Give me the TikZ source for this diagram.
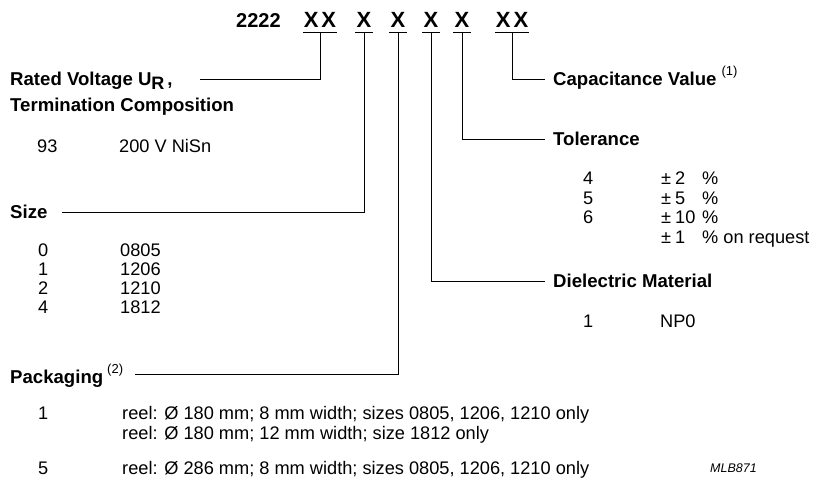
\documentclass[tikz,border=0pt]{standalone}
\usepackage{fontspec}
\setmainfont{Liberation Sans}
\begin{document}
\begin{tikzpicture}[x=1pt,y=-1pt,
  lbl/.style={anchor=base west,inner sep=0pt,font=\bfseries\fontsize{18.6}{18.6}\selectfont},
  val/.style={anchor=base west,inner sep=0pt,font=\fontsize{18.2}{18.2}\selectfont},
  hdr/.style={anchor=base,inner xsep=1pt,inner ysep=5pt,font=\bfseries\fontsize{22}{22}\selectfont},
  conn/.style={line width=0.9pt}]
\useasboundingbox (0,0) rectangle (813,483);

% header
\node[anchor=base west,inner sep=0pt,font=\bfseries\fontsize{20}{20}\selectfont] (code) at (236,27) {2222};
\node[hdr] (g1) at (320,27) {X\hspace{3pt}X};
\node[hdr] (g2) at (364,27) {X};
\node[hdr] (g3) at (398,27) {X};
\node[hdr] (g4) at (431,27) {X};
\node[hdr] (g5) at (462,27) {X};
\node[hdr] (g6) at (512,27) {X\hspace{3pt}X};
\foreach \g in {g1,g2,g3,g4,g5,g6}{
  \draw[conn] (\g.south west) -- (\g.south east);
}

% left labels
\node[lbl] (rated) at (10,85) {Rated Voltage U\raisebox{-4pt}{\fontsize{18}{18}\selectfont R}\hspace{3pt},};
\node[lbl] (term) at (10,111) {Termination Composition};
\node[val] (v93) at (37,152) {93};
\node[val] (vnisn) at (119,152) {200 V NiSn};

\node[lbl] (size) at (10,218) {Size};
\node[val] (s0) at (38,256) {0};
\node[val] (s1) at (38,275) {1};
\node[val] (s2) at (38,294) {2};
\node[val] (s4) at (38,313) {4};
\node[val] (d0) at (120,256) {0805};
\node[val] (d1) at (120,275) {1206};
\node[val] (d2) at (120,294) {1210};
\node[val] (d4) at (120,313) {1812};

\node[lbl] (pack) at (10,383) {Packaging\hspace{4pt}\raisebox{10pt}{\normalfont\fontsize{13}{13}\selectfont (2)}};
\node[val] (p1) at (38,419) {1};
\node[val] (r1) at (122,419) {reel: Ø 180 mm; 8 mm width; sizes 0805, 1206, 1210 only};
\node[val] (r2) at (122,439) {reel: Ø 180 mm; 12 mm width; size 1812 only};
\node[val] (p5) at (38,474) {5};
\node[val] (r5) at (122,474) {reel: Ø 286 mm; 8 mm width; sizes 0805, 1206, 1210 only};
\node[anchor=base west,inner sep=0pt,font=\itshape\fontsize{12.5}{12.5}\selectfont] (mlb) at (710,472) {MLB871};

% right labels
\node[lbl] (cap) at (553,85) {Capacitance Value\hspace{5pt}\raisebox{10pt}{\normalfont\fontsize{13}{13}\selectfont (1)}};
\node[lbl] (tol) at (553,145) {Tolerance};
\node[val] (t4) at (583,184) {4};
\node[val] (t5) at (583,204) {5};
\node[val] (t6) at (583,223) {6};
\node[val] (pm1) at (661,184) {±};
\node[val] (pm2) at (661,204) {±};
\node[val] (pm3) at (661,223) {±};
\node[val] (pm4) at (661,243) {±};
\node[val] (n1) at (675,184) {2};
\node[val] (n2) at (675,204) {5};
\node[val] (n3) at (675,223) {10};
\node[val] (n4) at (675,243) {1};
\node[val] (c1) at (702,184) {\%};
\node[val] (c2) at (702,204) {\%};
\node[val] (c3) at (702,223) {\%};
\node[val] (c4) at (702,243) {\% on request};
\node[lbl] (diel) at (553,287) {Dielectric Material};
\node[val] (k1) at (583,327) {1};
\node[val] (np0) at (660,327) {NP0};

% connector ends
\coordinate (eRated) at (200,79);
\coordinate (eSize) at (62,212);
\coordinate (ePack) at (135,374);
\coordinate (eDiel) at (545,281);
\coordinate (eTol) at (545,139);
\coordinate (eCap) at (545,79);

\draw[conn] (g1.south) |- (eRated);
\draw[conn] (g2.south) |- (eSize);
\draw[conn] (g3.south) |- (ePack);
\draw[conn] (g4.south) |- (eDiel);
\draw[conn] (g5.south) |- (eTol);
\draw[conn] (g6.south) |- (eCap);
\end{tikzpicture}
\end{document}
